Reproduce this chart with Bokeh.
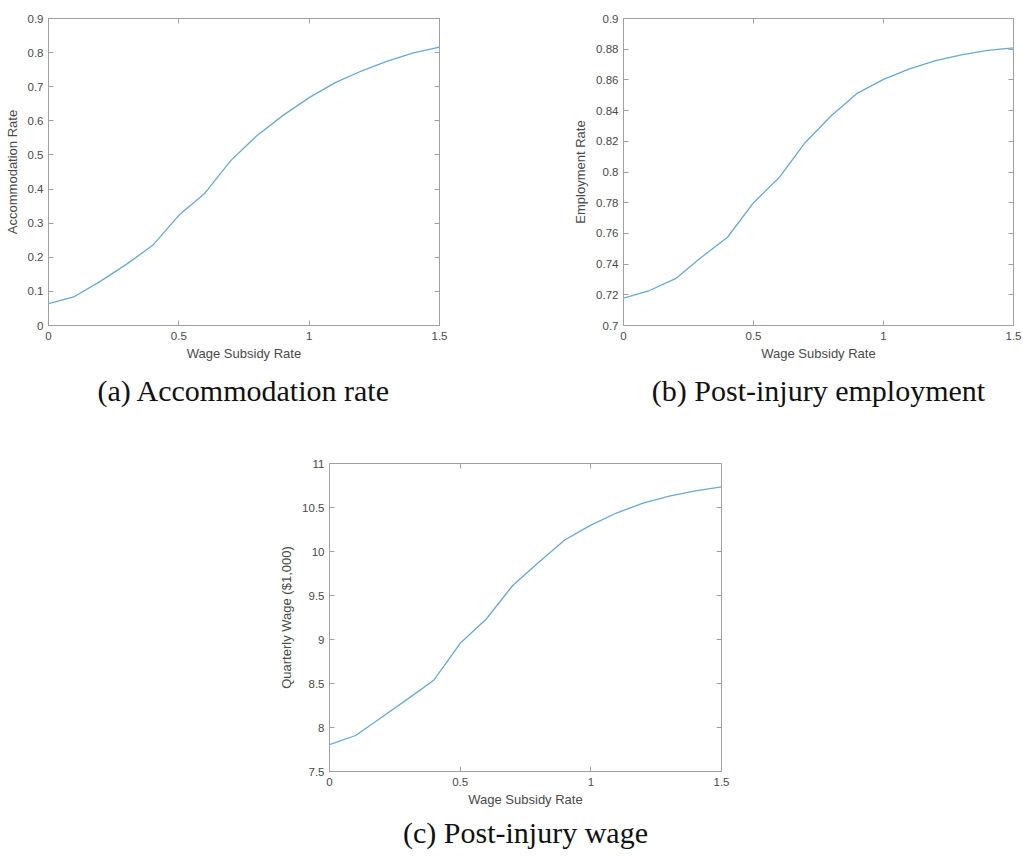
from bokeh.plotting import figure
from bokeh.layouts import column, row, Spacer
from bokeh.models import LinearAxis, FixedTicker, Range1d, Title, CustomJSTickFormatter
from bokeh.embed import file_html
from bokeh.resources import INLINE

subsidy = [0.0, 0.1, 0.2, 0.3, 0.4, 0.5, 0.6, 0.7, 0.8, 0.9, 1.0, 1.1, 1.2, 1.3, 1.4, 1.5]
accommodation = [0.064, 0.085, 0.130, 0.180, 0.235, 0.323, 0.388, 0.484, 0.557, 0.616,
                 0.668, 0.712, 0.746, 0.775, 0.799, 0.816]
employment = [0.7178, 0.7228, 0.7305, 0.7445, 0.7575, 0.7800, 0.7966, 0.8194, 0.8368, 0.8514,
              0.8603, 0.8672, 0.8726, 0.8763, 0.8792, 0.8809]
wage = [7.806, 7.909, 8.117, 8.325, 8.540, 8.957, 9.233, 9.611, 9.876, 10.130,
        10.300, 10.440, 10.550, 10.630, 10.690, 10.735]

x_ticks = [0, 0.5, 1, 1.5]
acc_ticks = [0, 0.1, 0.2, 0.3, 0.4, 0.5, 0.6, 0.7, 0.8, 0.9]
emp_ticks = [0.7, 0.72, 0.74, 0.76, 0.78, 0.8, 0.82, 0.84, 0.86, 0.88, 0.9]
wage_ticks = [7.5, 8, 8.5, 9, 9.5, 10, 10.5, 11]

captions = ["(a) Accommodation rate", "(b) Post-injury employment", "(c) Post-injury wage"]
y_labels = ["Accommodation Rate", "Employment Rate", "Quarterly Wage ($1,000)"]
x_label = "Wage Subsidy Rate"

LINE = "#68a9d8"
AX = "#a0a0a0"
TXT = "#4a4a4a"
FONT = "Liberation Sans"


def panel(y, yticks, ylab, cap, width, height, bl, br, bt, bb, standoff):
    p = figure(width=width, height=height, output_backend="svg", toolbar_location=None,
               x_range=Range1d(0, 1.5), y_range=Range1d(yticks[0], yticks[-1]),
               min_border_left=bl, min_border_right=br, min_border_top=bt, min_border_bottom=bb,
               x_axis_label=x_label, y_axis_label=ylab)
    p.grid.visible = False
    p.outline_line_color = AX
    p.background_fill_color = "white"
    p.border_fill_color = "white"
    p.line(subsidy, y, line_color=LINE, line_width=1.3)
    p.xaxis.ticker = FixedTicker(ticks=x_ticks)
    p.yaxis.ticker = FixedTicker(ticks=yticks)
    for ax in (p.xaxis[0], p.yaxis[0]):
        ax.axis_line_color = AX
        ax.major_tick_line_color = AX
        ax.major_tick_in = 5
        ax.major_tick_out = 0
        ax.minor_tick_line_color = None
        ax.major_label_text_font = FONT
        ax.major_label_text_font_size = "11.5px"
        ax.major_label_text_color = TXT
        ax.axis_label_text_font = FONT
        ax.axis_label_text_font_size = "13px"
        ax.axis_label_text_font_style = "normal"
        ax.axis_label_text_color = TXT
    p.xaxis[0].major_label_standoff = 6
    p.xaxis[0].axis_label_standoff = 3
    p.yaxis[0].major_label_standoff = 5
    p.yaxis[0].axis_label_standoff = 5
    blank = "return '';"
    top = LinearAxis(ticker=FixedTicker(ticks=x_ticks), formatter=CustomJSTickFormatter(code=blank),
                     axis_line_color=None, major_tick_line_color=AX, major_tick_in=5,
                     major_tick_out=0, minor_tick_line_color=None, major_label_standoff=0)
    right = LinearAxis(ticker=FixedTicker(ticks=yticks), formatter=CustomJSTickFormatter(code=blank),
                       axis_line_color=None, major_tick_line_color=AX, major_tick_in=5,
                       major_tick_out=0, minor_tick_line_color=None, major_label_standoff=0)
    p.add_layout(top, "above")
    p.add_layout(right, "right")
    p.add_layout(Title(text=cap, text_font="Liberation Serif", text_font_size="30px",
                       text_font_style="normal", text_color="#111111", align="center",
                       standoff=standoff), "below")
    return p


pa = panel(accommodation, acc_ticks, y_labels[0], captions[0], 560, 418, 48, 121, 18, 93, 16)
pb = panel(employment, emp_ticks, y_labels[1], captions[1], 463, 418, 63, 10, 18, 93, 16)
pc = panel(wage, wage_ticks, y_labels[2], captions[2], 465, 438, 48, 20, 45, 85, 8)

layout = column(row(pa, pb), row(Spacer(width=276, height=438), pc))

open("out.html", "w").write(file_html(layout, INLINE))
